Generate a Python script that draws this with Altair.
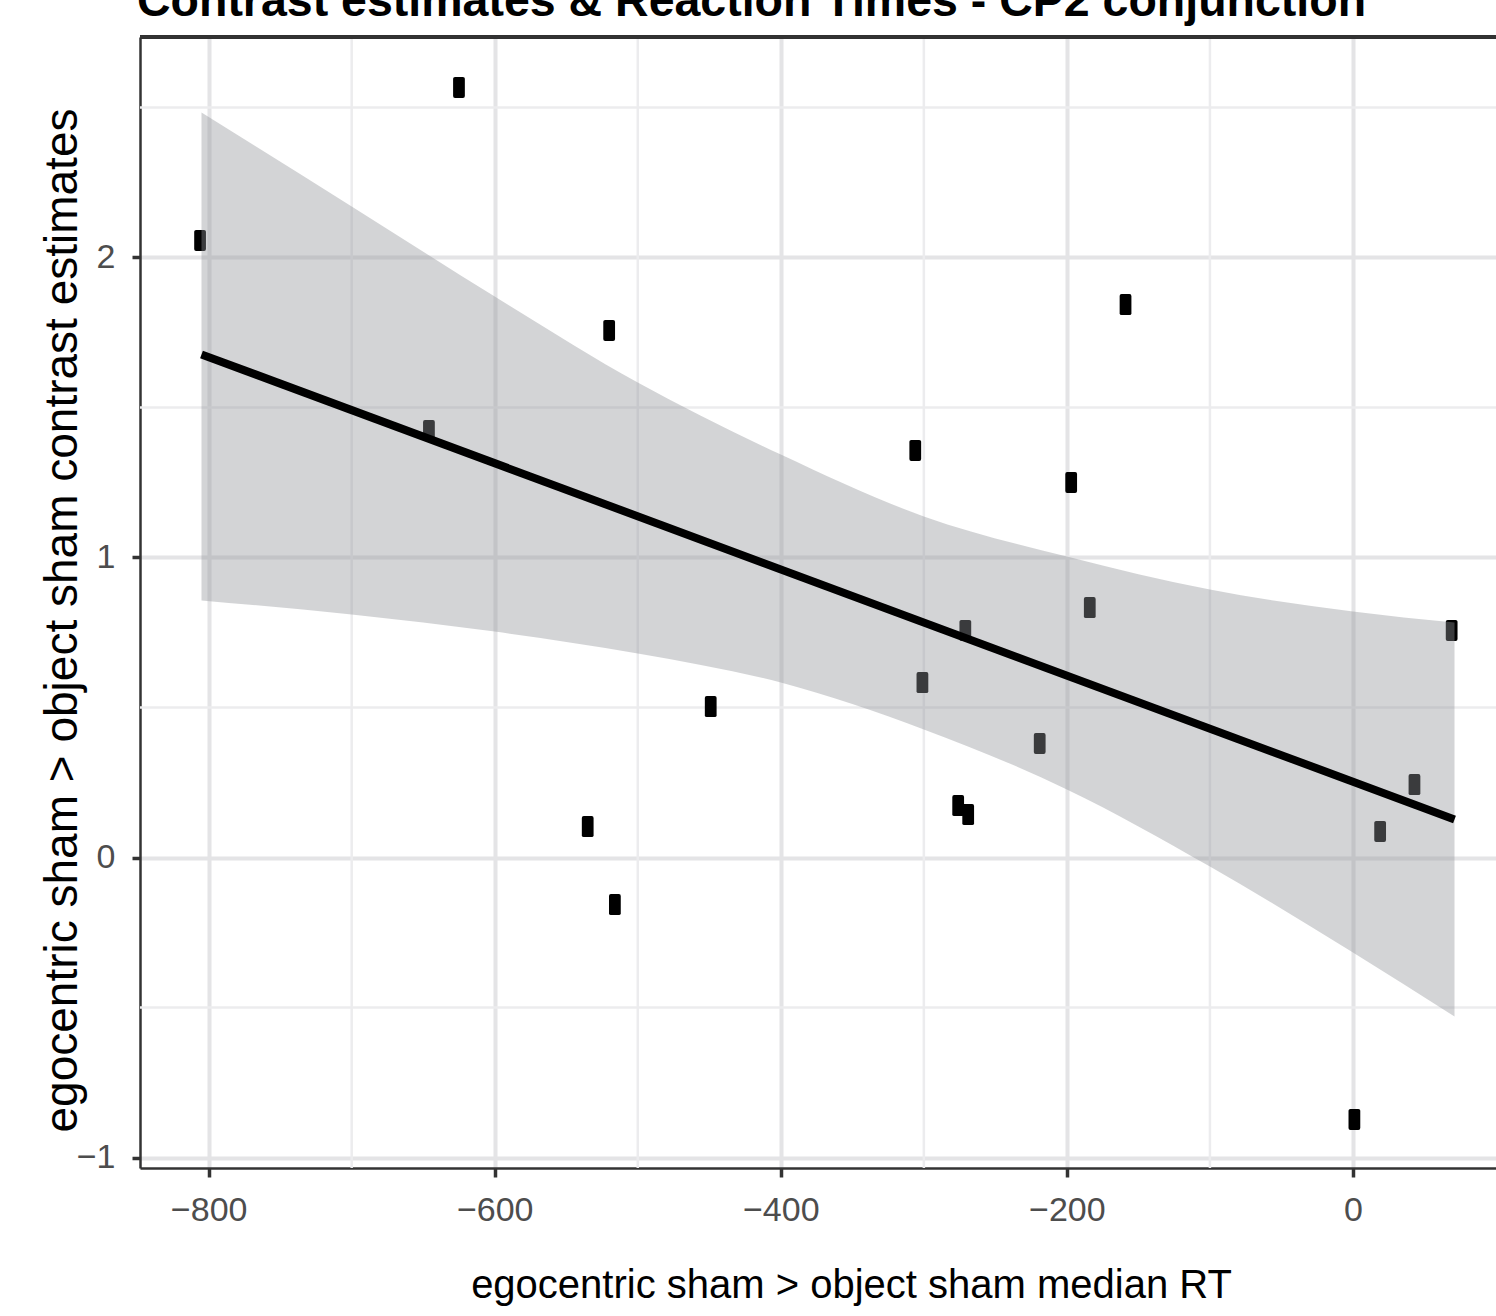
import altair as alt
import pandas as pd

# ---- data ----
rt = [-625, -806, -520, -646, -159, -306, -197, -184, -271, -301,
      -449, -219, -276, -269, -535, -516, 69, 43, 19, 1]
est = [2.567, 2.057, 1.757, 1.423, 1.843, 1.357, 1.25, 0.833, 0.757, 0.583,
       0.503, 0.38, 0.173, 0.143, 0.103, -0.157, 0.757, 0.243, 0.087, -0.873]

band_x = [-805, -700, -600, -500, -400, -300, -200, -100, 0, 71]
band_lo = [0.857, 0.81, 0.753, 0.68, 0.583, 0.427, 0.227, -0.03, -0.317, -0.53]
band_hi = [2.483, 2.17, 1.87, 1.583, 1.343, 1.137, 1.003, 0.893, 0.82, 0.783]

fit_x = [-805, 71]
fit_y = [1.677, 0.127]

x_major = [-800, -600, -400, -200, 0]
y_major = [-1, 0, 1, 2]
x_minor = [-700, -500, -300, -100]
y_minor = [-0.5, 0.5, 1.5, 2.5]

TITLE = ["Contrast estimates & Reaction Times - CP2 conjunction"]
XT = "egocentric sham > object sham median RT"
YT = "egocentric sham > object sham contrast estimates"

FONT = "Liberation Sans, Arial, Helvetica, sans-serif"

X_DOM = [-848, 100]
Y_DOM = [-1.035, 2.735]
W, H = 1356, 1131

pts = pd.DataFrame({"x": rt, "y": est})
band = pd.DataFrame({"x": band_x, "lo": band_lo, "hi": band_hi})
fit = pd.DataFrame({"x": fit_x, "y": fit_y})
vmin = pd.DataFrame({"v": x_minor})
hmin = pd.DataFrame({"v": y_minor})
ttl = pd.DataFrame({"t": TITLE})

xs = alt.Scale(domain=X_DOM, nice=False, zero=False)
ys = alt.Scale(domain=Y_DOM, nice=False, zero=False)

xaxis = alt.Axis(values=x_major, format="d", title=XT, grid=True, gridColor="#e4e4e6", gridWidth=4,
                 domainColor="#333333", domainWidth=2.5, tickColor="#333333", tickWidth=3.5,
                 tickSize=9, labelFont=FONT, labelFontSize=34, labelColor="#4d4d4d",
                 labelPadding=16, titleFont=FONT, titleFontSize=40, titleFontWeight="normal",
                 titleColor="#000000", titleX=711, titleY=129, titleBaseline="alphabetic",
                 titleAnchor="middle", titleAlign="center")
yaxis = alt.Axis(values=y_major, format="d", title=YT, grid=True, gridColor="#e4e4e6", gridWidth=4,
                 domainColor="#333333", domainWidth=2.5, tickColor="#333333", tickWidth=3.5,
                 tickSize=8, labelFont=FONT, labelFontSize=34, labelColor="#4d4d4d",
                 labelPadding=17, titleFont=FONT, titleFontSize=46, titleFontWeight="normal",
                 titleColor="#000000", titleX=-64, titleY=583, titleBaseline="alphabetic",
                 titleAngle=270, titleAnchor="middle", titleAlign="center")

vgrid = alt.Chart(vmin).mark_rule(color="#ececee", strokeWidth=2.5).encode(
    x=alt.X("v:Q", scale=xs, axis=xaxis))
hgrid = alt.Chart(hmin).mark_rule(color="#ececee", strokeWidth=2.5).encode(
    y=alt.Y("v:Q", scale=ys, axis=yaxis))

rect_path = ("M-0.56,-0.82 Q-0.56,-1 -0.38,-1 L0.38,-1 Q0.56,-1 0.56,-0.82 "
             "L0.56,0.82 Q0.56,1 0.38,1 L-0.38,1 Q-0.56,1 -0.56,0.82 Z")
points = alt.Chart(pts).mark_point(shape=rect_path, size=441, filled=True,
                                   color="#000000", opacity=1).encode(
    x=alt.X("x:Q", scale=xs), y=alt.Y("y:Q", scale=ys))

ribbon = alt.Chart(band).mark_area(color="#919398", opacity=0.4, orient="vertical",
                                   interpolate="monotone").encode(
    x=alt.X("x:Q", scale=xs), y=alt.Y("lo:Q", scale=ys), y2="hi:Q")

line = alt.Chart(fit).mark_line(color="#000000", strokeWidth=8, strokeCap="butt").encode(
    x=alt.X("x:Q", scale=xs), y=alt.Y("y:Q", scale=ys))

topborder = alt.Chart(pts).mark_rule(color="#333333", strokeWidth=2.5).encode(
    x=alt.value(0), x2=alt.value(W), y=alt.value(0))

title = alt.Chart(ttl).mark_text(align="left", baseline="alphabetic", font=FONT, fontSize=46.5,
                                 fontWeight="bold", color="#000000").encode(
    text="t:N", x=alt.value(-3), y=alt.value(-21))

chart = alt.layer(vgrid, hgrid, points, ribbon, line, topborder, title).properties(
    width=W, height=H,
    autosize=alt.AutoSizeParams(type="none"),
    padding={"left": 140, "top": 37, "right": 0, "bottom": 148},
).configure_view(stroke=None).configure(background="white")

chart.save("out.html", embed_options={"renderer": "svg", "actions": False})
